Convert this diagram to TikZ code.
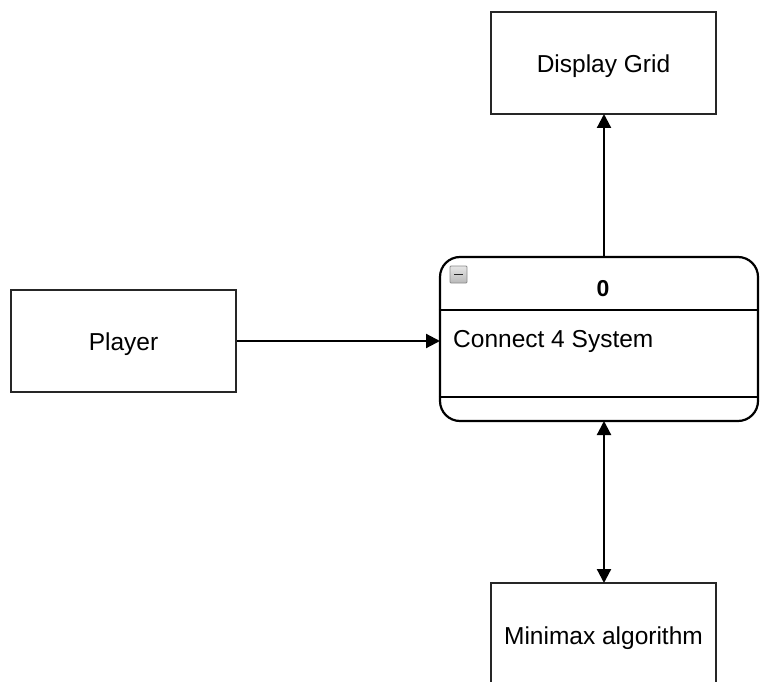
\documentclass[tikz,border=0pt]{standalone}
\usepackage{fontspec}
\setmainfont{Liberation Sans}
\usetikzlibrary{arrows.meta}
\begin{document}
\begin{tikzpicture}[x=1pt,y=-1pt,
  every node/.style={font=\fontsize{24.5}{28}\selectfont, inner sep=0pt},
  entity/.style={draw=black!85, line width=2.2pt, minimum width=225pt, minimum height=102pt, fill=white},
  proc/.style={draw=black, line width=2.2pt, rounded corners=20pt, minimum width=318pt, minimum height=164pt, fill=white},
  tip/.style={Triangle[length=14pt,width=14pt]},
  flow/.style={draw=black, line width=2.2pt, -{Triangle[length=14pt,width=14pt]}},
  biflow/.style={draw=black, line width=2.2pt, {Triangle[length=14pt,width=14pt]}-{Triangle[length=14pt,width=14pt]}}
]
\useasboundingbox (0,0) rectangle (760,682);
\clip (0,0) rectangle (760,682);
\fill[white] (0,0) rectangle (760,682);

\node[entity] (grid) at (603.5,63) {};
\node (gridtext) at (603.5,66) {Display Grid};
\node[entity] (player) at (123.5,341) {};
\node (playertext) at (123.5,344) {Player};
\node[entity] (minimax) at (603.5,634) {};
\node (mmtext) at (603.5,638) {Minimax algorithm};
\node[proc] (sys) at (599,339) {};

\coordinate (hl) at ([yshift=-54pt]sys.north west);
\coordinate (hr) at ([yshift=-54pt]sys.north east);
\coordinate (fl) at ([yshift=25pt]sys.south west);
\coordinate (fr) at ([yshift=25pt]sys.south east);
\draw[line width=2.2pt] (hl) -- (hr);
\draw[line width=2.2pt] (fl) -- (fr);

\node[font=\bfseries\fontsize{23}{26}\selectfont] (num) at (603,289) {0};
\node[anchor=west] (label) at (453,341) {Connect 4 System};

% collapse icon
\node[draw=gray!90, line width=0.9pt, rounded corners=1pt, minimum width=17pt, minimum height=17pt, top color=gray!20, bottom color=gray!55] (icon) at (458.5,274.5) {};
\draw[line width=1.8pt, black!85] ([xshift=-4.5pt]icon.center) -- ([xshift=4.5pt]icon.center);

\coordinate (sysTop) at (604,257);
\coordinate (sysBot) at (604,421);
\coordinate (sysLeft) at (440,341);
\coordinate (gridBot) at (604,114);
\coordinate (mmTop) at (604,583);

\draw[flow] (sysTop) -- (gridBot);
\draw[flow] (player.east) -- (sysLeft);
\draw[biflow] (sysBot) -- (mmTop);
\end{tikzpicture}
\end{document}
